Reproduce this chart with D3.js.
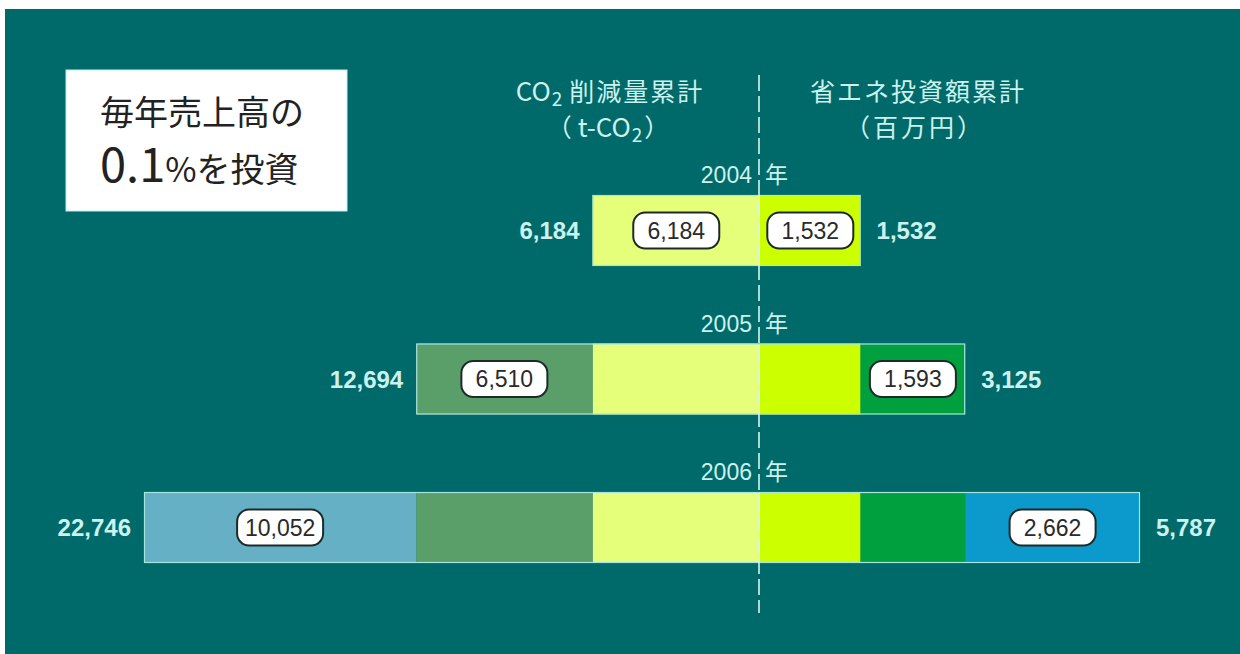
<!DOCTYPE html>
<html>
<head>
<meta charset="utf-8">
<script src="https://cdn.jsdelivr.net/npm/d3@7"></script>
<style>
html,body{margin:0;padding:0;background:#ffffff;}
svg{display:block;}
</style>
</head>
<body>
<svg id="chart" width="1240" height="654"></svg>
<script>
// ---- data ----
const years = ["2004", "2005", "2006"];
const co2Annual = [6184, 6510, 10052];       // t-CO2 reduction added each year
const investAnnual = [1532, 1593, 2662];     // investment added each year (million yen)
const co2Total = [6184, 12694, 22746];       // cumulative t-CO2
const investTotal = [1532, 3125, 5787];      // cumulative million yen
const yearSuffix = "年";
const leftColors = ["#e6ff7a", "#5a9e6a", "#66b0c6"];
const rightColors = ["#ccff00", "#00a03e", "#0b9acb"];
const fmt = d3.format(",");

// ---- layout ----
const W = 1240, H = 654;
const cx = 760;
const bg = "#006a6a";
const lightText = "#cdf1ee";
const jp = "'Noto Sans CJK JP','Noto Sans',sans-serif";
const num = "'Liberation Sans',Arial,sans-serif";

const svg = d3.select("#chart");
svg.append("rect").attr("x", 5).attr("y", 9).attr("width", W - 5).attr("height", H - 9).attr("fill", bg);

const xL = d3.scaleLinear().domain([0, d3.max(co2Total)]).range([cx, cx - 616]);
const xR = d3.scaleLinear().domain([0, d3.max(investTotal)]).range([cx, cx + 380]);
const y = d3.scaleBand().domain(years).range([195, 563]).paddingInner(0.522).paddingOuter(0);
const bh = y.bandwidth();

// segments
const segs = [];
years.forEach((yr, i) => {
  let cL = 0, cR = 0;
  for (let j = 0; j <= i; j++) {
    segs.push({yr, side: "L", j, i, v: co2Annual[j], a: cL, b: cL + co2Annual[j], color: leftColors[j]});
    segs.push({yr, side: "R", j, i, v: investAnnual[j], a: cR, b: cR + investAnnual[j], color: rightColors[j]});
    cL += co2Annual[j]; cR += investAnnual[j];
  }
});

const g = svg.append("g");
g.selectAll("rect.seg").data(segs).join("rect")
  .attr("class", "seg")
  .attr("x", d => d.side === "L" ? xL(d.b) : xR(d.a))
  .attr("width", d => d.side === "L" ? xL(d.a) - xL(d.b) : xR(d.b) - xR(d.a))
  .attr("y", d => y(d.yr))
  .attr("height", bh)
  .attr("fill", d => d.color);

// outline of each whole bar
g.selectAll("rect.outline").data(years).join("rect")
  .attr("class", "outline")
  .attr("x", (d, i) => xL(co2Total[i]) + 0.5)
  .attr("y", d => y(d) + 0.5)
  .attr("width", (d, i) => xR(investTotal[i]) - xL(co2Total[i]) - 1)
  .attr("height", bh - 1)
  .attr("fill", "none")
  .attr("stroke", "#a6e4de")
  .attr("stroke-width", 1.2);

// value boxes on newest segments
const newest = segs.filter(d => d.j === d.i);
const bw = 86, bxh = 36;
const boxes = g.selectAll("g.box").data(newest).join("g")
  .attr("class", "box")
  .attr("transform", d => {
    const mid = d.side === "L" ? (xL(d.a) + xL(d.b)) / 2 : (xR(d.a) + xR(d.b)) / 2;
    return `translate(${mid},${y(d.yr) + bh / 2})`;
  });
boxes.append("rect")
  .attr("x", -bw / 2).attr("y", -bxh / 2).attr("width", bw).attr("height", bxh)
  .attr("rx", 12).attr("ry", 12)
  .attr("fill", "#ffffff").attr("stroke", "#1e2a2a").attr("stroke-width", 2);
boxes.append("text")
  .attr("text-anchor", "middle").attr("dy", "0.36em")
  .attr("font-family", num).attr("font-size", 23).attr("fill", "#2a2a2a")
  .text(d => fmt(d.v));

// totals
g.selectAll("text.totL").data(years).join("text")
  .attr("class", "totL")
  .attr("x", (d, i) => xL(co2Total[i]) - 13)
  .attr("y", d => y(d) + bh / 2)
  .attr("dy", "0.36em")
  .attr("text-anchor", "end")
  .attr("font-family", num).attr("font-weight", "bold").attr("font-size", 24)
  .attr("fill", lightText)
  .text((d, i) => fmt(co2Total[i]));
g.selectAll("text.totR").data(years).join("text")
  .attr("class", "totR")
  .attr("x", (d, i) => xR(investTotal[i]) + 16)
  .attr("y", d => y(d) + bh / 2)
  .attr("dy", "0.36em")
  .attr("text-anchor", "start")
  .attr("font-family", num).attr("font-weight", "bold").attr("font-size", 24)
  .attr("fill", lightText)
  .text((d, i) => fmt(investTotal[i]));

// year labels
g.selectAll("text.yr").data(years).join("text")
  .attr("class", "yr")
  .attr("x", cx - 8).attr("y", d => y(d) - 12)
  .attr("text-anchor", "end")
  .attr("font-family", num).attr("font-size", 23)
  .attr("fill", lightText)
  .text(d => d);
g.selectAll("text.yrs").data(years).join("text")
  .attr("class", "yrs")
  .attr("x", cx + 5).attr("y", d => y(d) - 12)
  .attr("text-anchor", "start")
  .attr("font-family", jp).attr("font-size", 23)
  .attr("fill", lightText)
  .text(yearSuffix);

// dashed center line
svg.append("line")
  .attr("x1", cx - 1).attr("x2", cx - 1).attr("y1", 75).attr("y2", 613)
  .attr("stroke", "#d6f3ef").attr("stroke-width", 1.6)
  .attr("stroke-dasharray", "16 5");

// headers
const h1 = svg.append("text").attr("x", 610).attr("y", 101).attr("text-anchor", "middle")
  .attr("font-family", jp).attr("font-size", 25).attr("fill", lightText);
h1.append("tspan").attr("font-size", 26).text("CO");
h1.append("tspan").attr("font-size", 19).attr("dy", 5).attr("dx", 1).text("2");
h1.append("tspan").attr("dy", -5).attr("dx", 7).attr("letter-spacing", 2).text("削減量累計");
const h2 = svg.append("text").attr("x", 608).attr("y", 137).attr("text-anchor", "middle")
  .attr("font-family", jp).attr("font-size", 25).attr("fill", lightText);
h2.append("tspan").text("（");
h2.append("tspan").attr("dx", 6).attr("font-size", 26).text("t-CO");
h2.append("tspan").attr("font-size", 19).attr("dy", 5).attr("dx", 1).text("2");
h2.append("tspan").attr("dy", -5).attr("dx", 2).text("）");
svg.append("text").attr("x", 918).attr("y", 101).attr("text-anchor", "middle")
  .attr("font-family", jp).attr("font-size", 25).attr("letter-spacing", 2).attr("fill", lightText)
  .text("省エネ投資額累計");
svg.append("text").attr("x", 915).attr("y", 137).attr("text-anchor", "middle")
  .attr("font-family", jp).attr("font-size", 25).attr("letter-spacing", 3).attr("fill", lightText)
  .text("（百万円）");

// title box
svg.append("rect").attr("x", 66).attr("y", 70).attr("width", 281).attr("height", 141)
  .attr("fill", "#ffffff").attr("stroke", "#bfeeee").attr("stroke-width", 1);
svg.append("text").attr("x", 100).attr("y", 125)
  .attr("font-family", jp).attr("font-size", 34).attr("fill", "#222")
  .text("毎年売上高の");
const t2 = svg.append("text").attr("x", 100).attr("y", 182)
  .attr("font-family", jp).attr("fill", "#222");
t2.append("tspan").attr("font-size", 47).text("0.1");
t2.append("tspan").attr("font-size", 34).text("%を投資");
</script>
</body>
</html>
